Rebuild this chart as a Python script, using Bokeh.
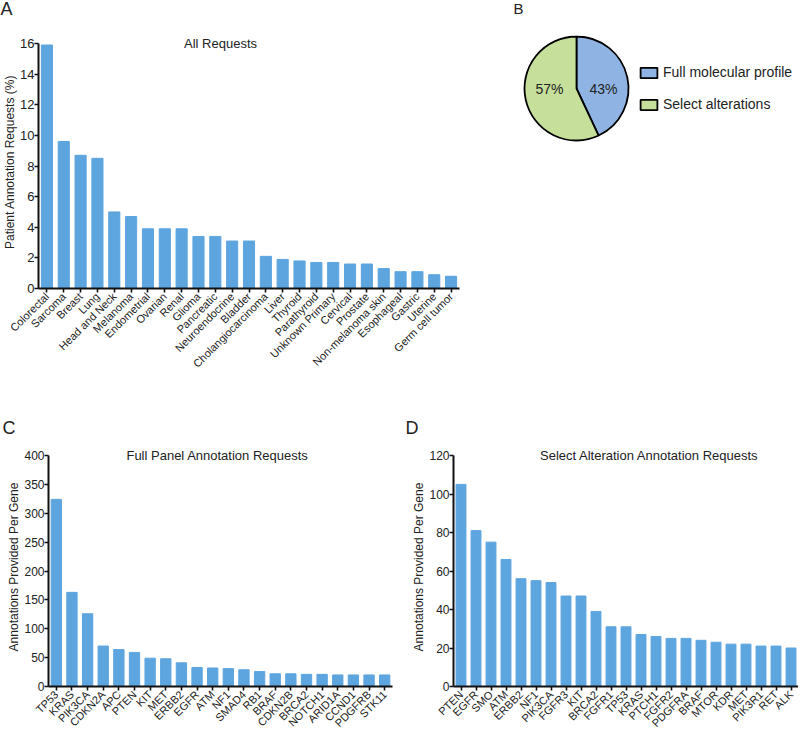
import numpy as np
from bokeh.plotting import figure
from bokeh.models import Label, Legend, LegendItem, ColumnDataSource, SingleIntervalTicker
from bokeh.core.properties import value
from bokeh.layouts import column, row
from bokeh.embed import file_html
from bokeh.resources import INLINE

FONT = "Liberation Sans"
BAR = "#5da5df"
TXT = "#222222"

# ---- data ----
cancer_types = ["Colorectal", "Sarcoma", "Breast", "Lung", "Head and Neck", "Melanoma",
                "Endometrial", "Ovarian", "Renal", "Glioma", "Pancreatic", "Neuroendocrine",
                "Bladder", "Cholangiocarcinoma", "Liver", "Thyroid", "Parathyroid",
                "Unknown Primary", "Cervical", "Prostate", "Non-melanoma skin", "Esophageal",
                "Gastric", "Uterine", "Germ cell tumor"]
cancer_pct = [15.9, 9.6, 8.7, 8.5, 5.0, 4.7, 3.9, 3.9, 3.9, 3.4, 3.4, 3.1, 3.1, 2.1, 1.9,
              1.8, 1.7, 1.7, 1.6, 1.6, 1.3, 1.1, 1.1, 0.9, 0.8]

full_genes = ["TP53", "KRAS", "PIK3CA", "CDKN2A", "APC", "PTEN", "KIT", "MET", "ERBB2", "EGFR",
              "ATM", "NF1", "SMAD4", "RB1", "BRAF", "CDKN2B", "BRCA2", "NOTCH1", "ARID1A",
              "CCND1", "PDGFRB", "STK11"]
full_counts = [324, 163, 126, 70, 64, 59, 49, 48, 41, 33, 32, 31, 29, 26, 22, 22, 21, 21,
               20, 20, 20, 20]

select_genes = ["PTEN", "EGFR", "SMO", "ATM", "ERBB2", "NF1", "PIK3CA", "FGFR3", "KIT",
                "BRCA2", "FGFR1", "TP53", "KRAS", "PTCH1", "FGFR2", "PDGFRA", "BRAF", "MTOR",
                "KDR", "MET", "PIK3R1", "RET", "ALK"]
select_counts = [105, 81, 75, 66, 56, 55, 54, 47, 47, 39, 31, 31, 27, 26, 25, 25, 24, 23,
                 22, 22, 21, 21, 20]

pie_labels = ["Full molecular profile", "Select alterations"]
pie_pct = [43, 57]
pie_colors = ["#8fb4e3", "#c6e09c"]

EXT = 8  # px of headroom above the axis top for the in-plot title


def panel_letter(p, letter, dx, dy, size="18px"):
    # placed in the panel above the frame: dx from frame left, dy up from frame top
    p.add_layout(Label(x=dx, y=dy, x_units="screen", y_units="screen", text=letter,
                       text_align="left", text_baseline="middle", text_font=FONT,
                       text_font_size=size, text_color=TXT), "above")


def bar_panel(cats, vals, ymax, ystep, width, height, left, right, top, bottom,
              tick_fs, ylabel, title, title_x, letter, letter_dx, letter_dy):
    fh = height - top - bottom
    p = figure(x_range=cats, y_range=(0, ymax * fh / (fh - EXT)), width=width, height=height,
               output_backend="svg", toolbar_location=None,
               min_border_left=left, min_border_right=right,
               min_border_top=top, min_border_bottom=bottom)
    p.vbar(x=cats, top=vals, width=0.66, color=BAR)
    p.xgrid.grid_line_color = None
    p.ygrid.grid_line_color = None
    p.outline_line_color = None
    for ax in (p.xaxis[0], p.yaxis[0]):
        ax.axis_line_width = 2
        ax.axis_line_color = "#111111"
        ax.major_tick_line_width = 1.6
        ax.major_tick_line_color = "#111111"
        ax.major_tick_in = 0
        ax.major_tick_out = 4
        ax.minor_tick_line_color = None
        ax.major_label_text_font = FONT
        ax.major_label_text_color = TXT
    p.yaxis.bounds = (0, ymax)
    p.xaxis.major_label_orientation = np.pi / 4
    p.xaxis.major_label_text_font_size = "11px"
    p.xaxis.major_label_standoff = 2
    p.yaxis.ticker = SingleIntervalTicker(interval=ystep)
    p.yaxis.major_label_text_font_size = tick_fs
    p.yaxis.major_label_standoff = 0
    p.yaxis.axis_label = ylabel
    p.yaxis.axis_label_text_font = FONT
    p.yaxis.axis_label_text_font_size = "12px"
    p.yaxis.axis_label_text_font_style = "normal"
    p.yaxis.axis_label_text_color = TXT
    p.yaxis.axis_label_standoff = 0
    p.add_layout(Label(x=title_x, x_units="screen", y=ymax, y_units="data", text=title,
                       text_align="center", text_baseline="middle", text_font=FONT,
                       text_font_size="13px", text_color=TXT))
    panel_letter(p, letter, letter_dx, letter_dy)
    return p


TOP_H, BOT_H = 390, 348

pA = bar_panel(cancer_types, cancer_pct, 16, 2, 470, TOP_H, 35, 11, 35, 102,
               "13px", "Patient Annotation Requests (%)", "All Requests", 182,
               "A", -38, 27)

pC = bar_panel(full_genes, full_counts, 400, 50, 400, BOT_H, 48, 8, 57, 52,
               "12px", "Annotations Provided Per Gene",
               "Full Panel Annotation Requests", 169, "C", -46, 20)

pD = bar_panel(select_genes, select_counts, 120, 20, 398, BOT_H, 53, 0, 57, 52,
               "12px", "Annotations Provided Per Gene",
               "Select Alteration Annotation Requests", 196, "D", -48, 20)

# ---- pie ----
W = 328
B_TOP, B_BOT = 35, 102
pB = figure(width=W, height=TOP_H, x_range=(0, W), y_range=(B_BOT, TOP_H - B_TOP),
            x_axis_type=None, y_axis_type=None, min_border_left=0, min_border_right=0,
            min_border_top=B_TOP, min_border_bottom=B_BOT,
            output_backend="svg", toolbar_location=None)
pB.xgrid.grid_line_color = None
pB.ygrid.grid_line_color = None
pB.outline_line_color = None

cx, cy, rad = 106, TOP_H - 88, 52
frac = np.array(pie_pct, dtype=float) / sum(pie_pct)
cum = np.concatenate([[0], np.cumsum(frac)])
starts = np.pi / 2 - cum[1:] * 2 * np.pi
ends = np.pi / 2 - cum[:-1] * 2 * np.pi
src = ColumnDataSource(dict(start=starts, end=ends, color=pie_colors, label=pie_labels))
wr = pB.wedge(x=cx, y=cy, radius=rad, start_angle="start", end_angle="end",
              fill_color="color", line_color="black", line_width=1.8, source=src)
mids = (starts + ends) / 2
tx = cx + 0.52 * rad * np.sign(np.cos(mids))
pB.text(x=tx, y=[cy] * len(pie_pct), text=[f"{v}%" for v in pie_pct],
        text_align="center", text_baseline="middle", text_font=value(FONT),
        text_font_size="14px", text_color=TXT)
legend = Legend(items=[LegendItem(label=lab, renderers=[wr], index=i)
                       for i, lab in enumerate(pie_labels)],
                location=(168, 176), orientation="vertical",
                label_text_font=FONT, label_text_font_size="14px", label_text_color=TXT,
                glyph_width=21, glyph_height=13, label_standoff=4, spacing=16,
                padding=0, margin=0, border_line_color=None, background_fill_alpha=0)
pB.add_layout(legend)
panel_letter(pB, "B", 43, 27, "15px")

layout = column(row(pA, pB), row(pC, pD))
open("out.html", "w").write(file_html(layout, INLINE))
